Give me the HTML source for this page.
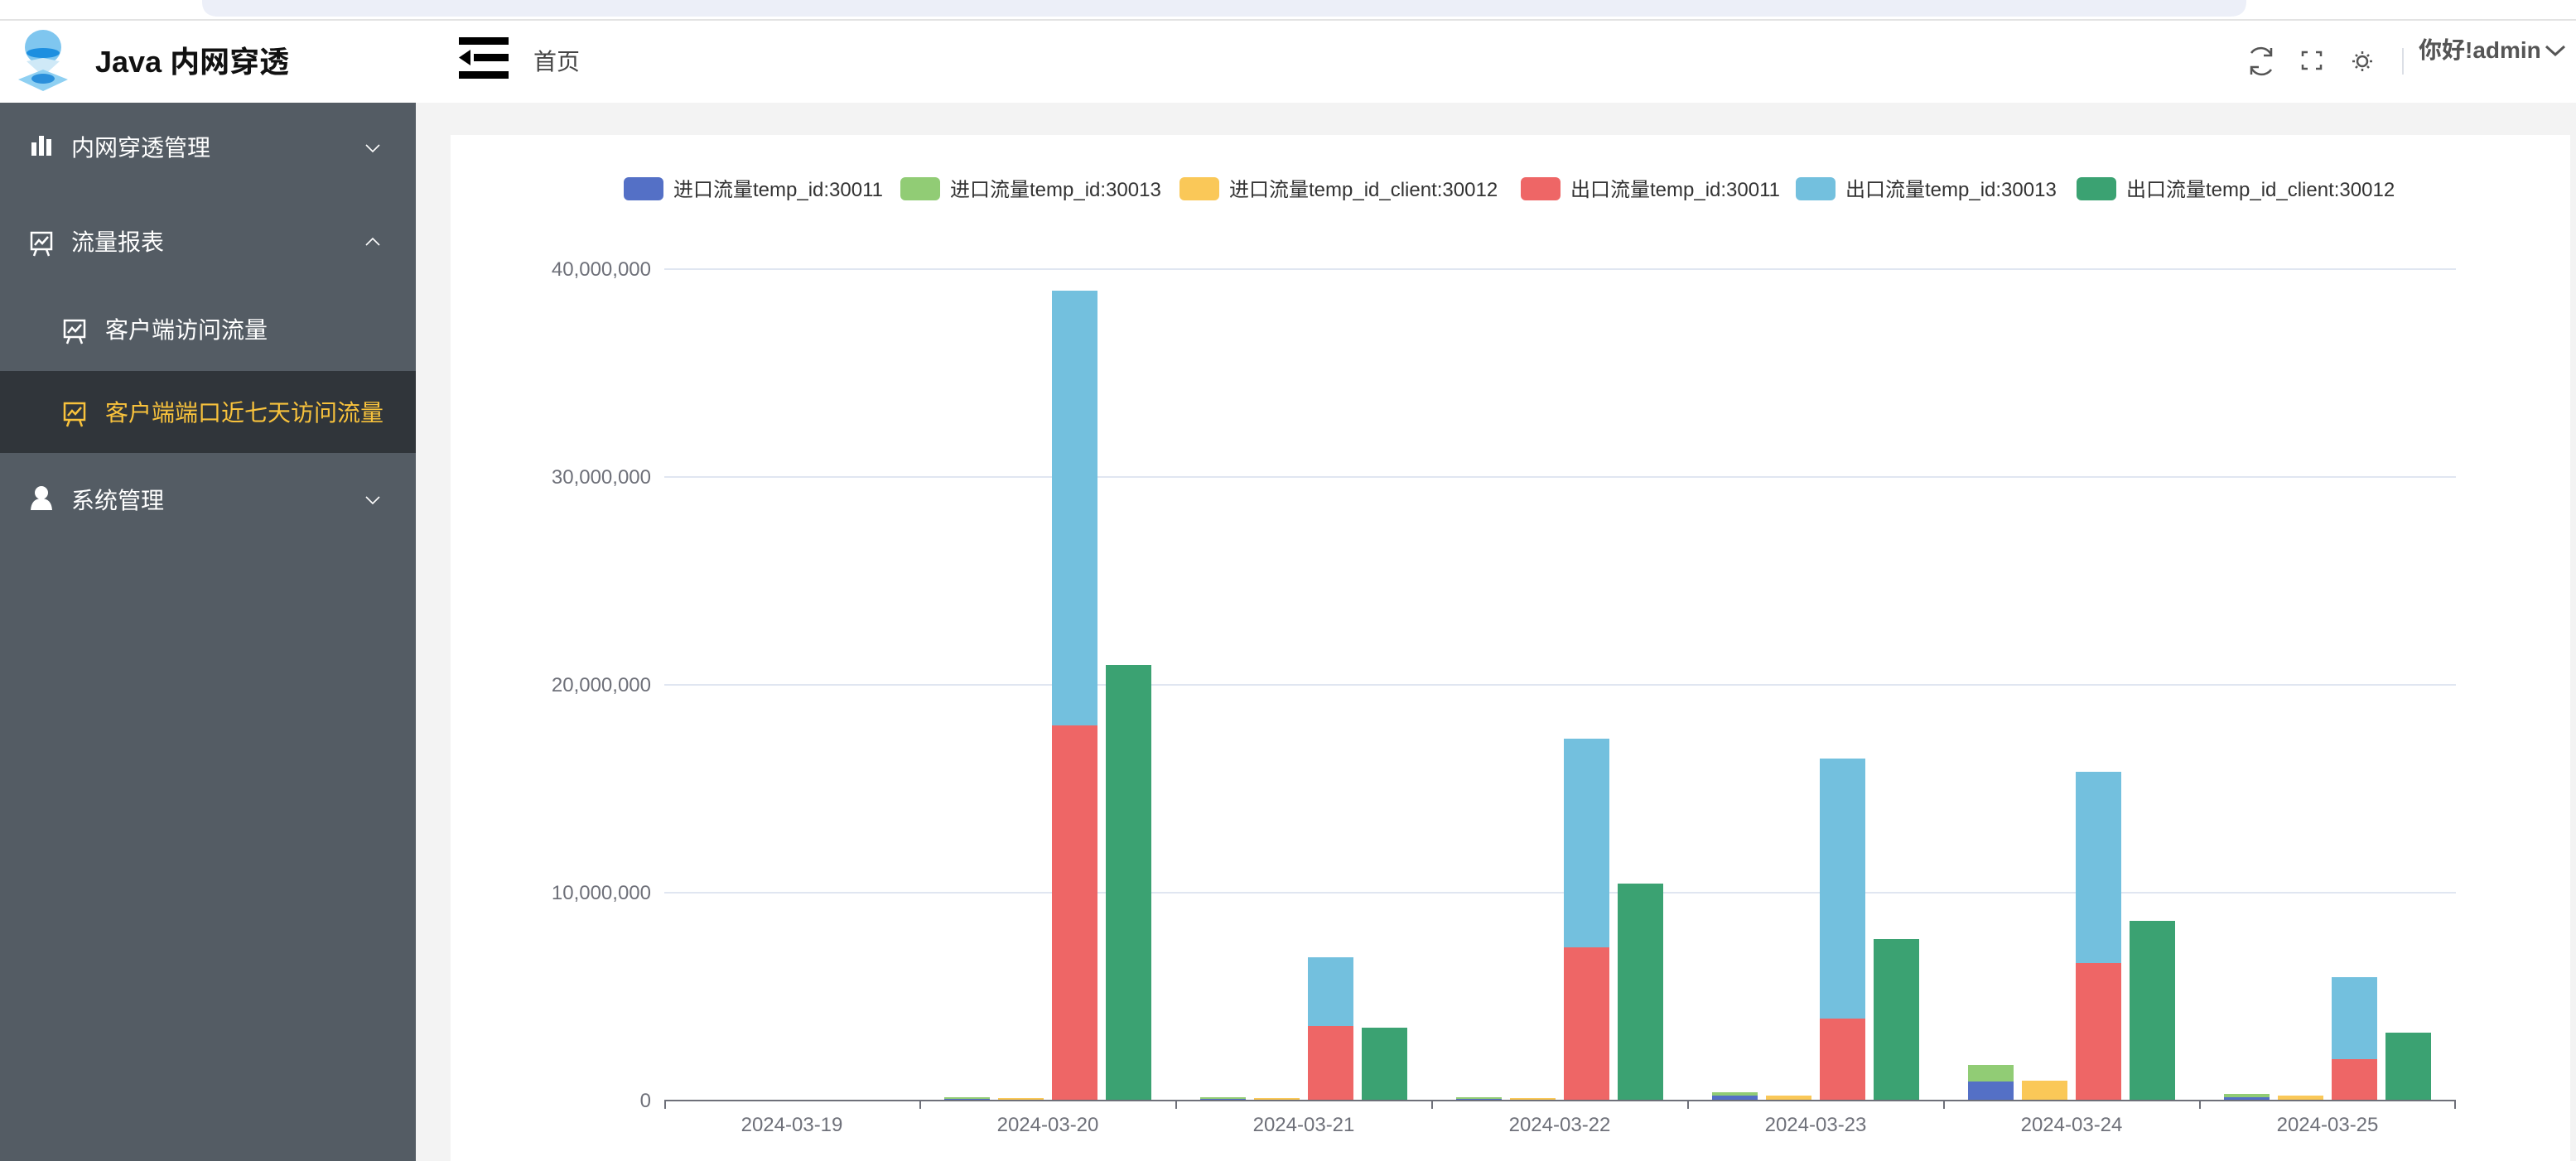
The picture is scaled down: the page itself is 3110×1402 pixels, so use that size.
<!DOCTYPE html>
<html><head><meta charset="utf-8"><style>
html,body{margin:0;padding:0;width:3110px;height:1402px;overflow:hidden;background:#fff}
svg{display:block}
text{font-family:"Liberation Sans","Noto Sans CJK SC",sans-serif}
</style></head><body>
<svg width="3110" height="1402" viewBox="0 0 3110 1402" xmlns="http://www.w3.org/2000/svg">
<rect x="0" y="0" width="3110" height="1402" fill="#fff"/>
<path d="M244 0 H2712 V2 Q2712 20 2692 20 H264 Q244 20 244 2 Z" fill="#eceff8"/>
<rect x="0" y="23" width="3110" height="2" fill="#e3e3e3"/>
<!-- logo -->
<ellipse cx="52" cy="57" rx="22" ry="21" fill="#7fc6ef"/>
<ellipse cx="52" cy="64" rx="20" ry="6" fill="#1d8fe0"/>
<path d="M32 74 L52 70 L72 74 L52 92 Z" fill="#cfe9f7"/>
<path d="M22 96 L52 84 L82 96 L52 110 Z" fill="#8fd0f2"/>
<ellipse cx="52" cy="95" rx="14" ry="6" fill="#2a8fdb"/>
<text x="115" y="87" font-size="36" font-weight="bold" fill="#111">Java 内网穿透</text>
<!-- hamburger -->
<rect x="554" y="45" width="60" height="9" fill="#000"/>
<rect x="572" y="65" width="42" height="9" fill="#000"/>
<path d="M554 69.5 L568 60 L568 79 Z" fill="#000"/>
<rect x="554" y="86" width="60" height="9" fill="#000"/>
<text x="644" y="84" font-size="28" fill="#444">首页</text>
<!-- header right -->
<g fill="none" stroke="#555" stroke-width="2.5">
<path d="M2718 64 A14 14 0 0 1 2742 66"/><path d="M2742 84 A14 14 0 0 1 2718 82"/>
<path d="M2742 58 V67 H2733"/><path d="M2718 90 V81 H2727"/>
<path d="M2780 68 V63 H2786 M2796 63 H2802 V68 M2802 78 V83 H2796 M2786 83 H2780 V78"/>
<circle cx="2852" cy="74" r="6"/>
<path d="M2852 62v3 M2852 83v3 M2840 74h3 M2861 74h3 M2844 66l2 2 M2858 80l2 2 M2860 66l-2 2 M2846 80l-2 2"/>
</g>
<rect x="2900" y="58" width="2" height="32" fill="#dcdfe6"/>
<text x="2920" y="70" font-size="28" font-weight="bold" fill="#555">你好!admin</text>
<path d="M3074 56 L3085 66 L3096 56" fill="none" stroke="#555" stroke-width="3"/>
<!-- sidebar -->
<rect x="0" y="124" width="502" height="1278" fill="#545c64"/>
<rect x="0" y="448" width="502" height="99" fill="#30353a"/>
<g fill="#fff">
<rect x="38" y="172" width="6" height="16"/><rect x="47" y="164" width="6" height="24"/><rect x="56" y="168" width="6" height="20"/>
<circle cx="50" cy="595" r="8"/><path d="M37 616 Q38 602 50 602 Q62 602 63 616 Z"/>
</g>
<g fill="none" stroke="#fff" stroke-width="2.5">
<rect x="38" y="281" width="24" height="20"/><path d="M42 296 l5-6 4 4 7-8 M44 301 l-3 8 M56 301 l3 8"/>
<rect x="78" y="387" width="24" height="20"/><path d="M82 402 l5-6 4 4 7-8 M84 407 l-3 8 M96 407 l3 8"/>
</g>
<g fill="none" stroke="#fff" stroke-width="1.6">
<path d="M442 175 l8 8 8-8 M442 296 l8-8 8 8 M442 600 l8 8 8-8"/>
</g>
<g fill="none" stroke="#f8c23c" stroke-width="2.5">
<rect x="78" y="487" width="24" height="20"/><path d="M82 502 l5-6 4 4 7-8 M84 507 l-3 8 M96 507 l3 8"/>
</g>
<g font-size="28" fill="#fff">
<text x="86" y="188">内网穿透管理</text>
<text x="86" y="302">流量报表</text>
<text x="127" y="408">客户端访问流量</text>
<text x="127" y="508" fill="#f8c23c">客户端端口近七天访问流量</text>
<text x="86" y="614">系统管理</text>
</g>
<!-- main -->
<rect x="502" y="124" width="2608" height="1278" fill="#f3f3f3"/>
<rect x="544" y="163" width="2559" height="1239" fill="#fff"/>
<!-- legend -->
<g font-size="24" fill="#333">
<rect x="753" y="214" width="48" height="28" rx="6" fill="#5470c6"/><text x="813" y="237">进口流量temp_id:30011</text>
<rect x="1087" y="214" width="48" height="28" rx="6" fill="#91cc75"/><text x="1147" y="237">进口流量temp_id:30013</text>
<rect x="1424" y="214" width="48" height="28" rx="6" fill="#fac858"/><text x="1484" y="237">进口流量temp_id_client:30012</text>
<rect x="1836" y="214" width="48" height="28" rx="6" fill="#ee6666"/><text x="1896" y="237">出口流量temp_id:30011</text>
<rect x="2168" y="214" width="48" height="28" rx="6" fill="#73c0de"/><text x="2228" y="237">出口流量temp_id:30013</text>
<rect x="2507" y="214" width="48" height="28" rx="6" fill="#3ba272"/><text x="2567" y="237">出口流量temp_id_client:30012</text>
</g>
<!-- grid -->
<g fill="#e0e6f1">
<rect x="802" y="324" width="2163" height="2"/>
<rect x="802" y="575" width="2163" height="2"/>
<rect x="802" y="826" width="2163" height="2"/>
<rect x="802" y="1077" width="2163" height="2"/>
</g>
<g font-size="24" fill="#6e7079" text-anchor="end">
<text x="786" y="333">40,000,000</text>
<text x="786" y="584">30,000,000</text>
<text x="786" y="835">20,000,000</text>
<text x="786" y="1086">10,000,000</text>
<text x="786" y="1337">0</text>
</g>
<!-- bars -->
<g>
<rect x="1140" y="1325" width="55" height="2" fill="#91cc75"/><rect x="1140" y="1327" width="55" height="2" fill="#5470c6"/>
<rect x="1205" y="1326" width="55" height="3" fill="#fac858"/>
<rect x="1270" y="351" width="55" height="525" fill="#73c0de"/><rect x="1270" y="876" width="55" height="453" fill="#ee6666"/>
<rect x="1335" y="803" width="55" height="526" fill="#3ba272"/>
<rect x="1449" y="1325" width="55" height="2" fill="#91cc75"/><rect x="1449" y="1327" width="55" height="2" fill="#5470c6"/>
<rect x="1514" y="1326" width="55" height="3" fill="#fac858"/>
<rect x="1579" y="1156" width="55" height="83" fill="#73c0de"/><rect x="1579" y="1239" width="55" height="90" fill="#ee6666"/>
<rect x="1644" y="1241" width="55" height="88" fill="#3ba272"/>
<rect x="1758" y="1325" width="55" height="2" fill="#91cc75"/><rect x="1758" y="1327" width="55" height="2" fill="#5470c6"/>
<rect x="1823" y="1326" width="55" height="3" fill="#fac858"/>
<rect x="1888" y="892" width="55" height="252" fill="#73c0de"/><rect x="1888" y="1144" width="55" height="185" fill="#ee6666"/>
<rect x="1953" y="1067" width="55" height="262" fill="#3ba272"/>
<rect x="2067" y="1319" width="55" height="4" fill="#91cc75"/><rect x="2067" y="1323" width="55" height="6" fill="#5470c6"/>
<rect x="2132" y="1323" width="55" height="6" fill="#fac858"/>
<rect x="2197" y="916" width="55" height="314" fill="#73c0de"/><rect x="2197" y="1230" width="55" height="99" fill="#ee6666"/>
<rect x="2262" y="1134" width="55" height="195" fill="#3ba272"/>
<rect x="2376" y="1286" width="55" height="20" fill="#91cc75"/><rect x="2376" y="1306" width="55" height="23" fill="#5470c6"/>
<rect x="2441" y="1305" width="55" height="24" fill="#fac858"/>
<rect x="2506" y="932" width="55" height="231" fill="#73c0de"/><rect x="2506" y="1163" width="55" height="166" fill="#ee6666"/>
<rect x="2571" y="1112" width="55" height="217" fill="#3ba272"/>
<rect x="2685" y="1321" width="55" height="4" fill="#91cc75"/><rect x="2685" y="1325" width="55" height="4" fill="#5470c6"/>
<rect x="2750" y="1323" width="55" height="6" fill="#fac858"/>
<rect x="2815" y="1180" width="55" height="99" fill="#73c0de"/><rect x="2815" y="1279" width="55" height="50" fill="#ee6666"/>
<rect x="2880" y="1247" width="55" height="82" fill="#3ba272"/>
</g>
<!-- axis -->
<rect x="802" y="1328" width="2163" height="2" fill="#6e7079"/>
<g fill="#6e7079">
<rect x="802" y="1328" width="2" height="11"/><rect x="1110" y="1328" width="2" height="11"/><rect x="1419" y="1328" width="2" height="11"/>
<rect x="1728" y="1328" width="2" height="11"/><rect x="2037" y="1328" width="2" height="11"/><rect x="2346" y="1328" width="2" height="11"/>
<rect x="2655" y="1328" width="2" height="11"/><rect x="2963" y="1328" width="2" height="11"/>
</g>
<g font-size="24" fill="#6e7079" text-anchor="middle">
<text x="956" y="1366">2024-03-19</text>
<text x="1265" y="1366">2024-03-20</text>
<text x="1574" y="1366">2024-03-21</text>
<text x="1883" y="1366">2024-03-22</text>
<text x="2192" y="1366">2024-03-23</text>
<text x="2501" y="1366">2024-03-24</text>
<text x="2810" y="1366">2024-03-25</text>
</g>
</svg>
</body></html>
